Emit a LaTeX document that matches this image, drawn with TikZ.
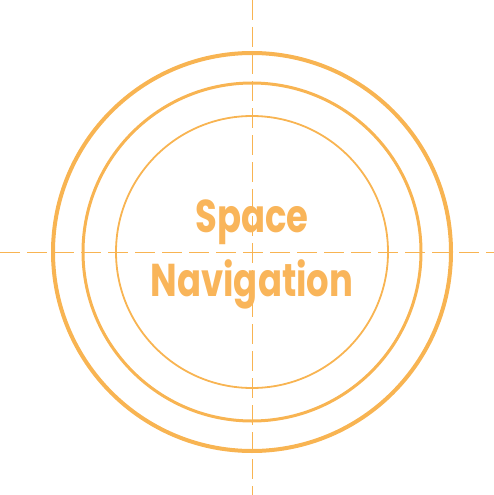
\documentclass[tikz,border=0pt]{standalone}
\usepackage{fontspec}
\setmainfont{Poppins}
\definecolor{ring}{HTML}{F8B452}
\definecolor{txt}{HTML}{F9B55A}
\tikzset{
  ringline/.style={draw=ring, fill=none},
  crossline/.style={draw=ring, line width=1pt, dash pattern=on 20pt off 7pt},
  title/.style={text=txt, font=\bfseries\fontsize{46}{64}\selectfont, align=center, inner sep=0pt}
}
\begin{document}
\begin{tikzpicture}[x=1pt,y=-1pt]
\useasboundingbox (0,0) rectangle (494,495);
\coordinate (c) at (252,252);
\coordinate (l) at (0,252);
\coordinate (r) at (494,252);
\coordinate (t) at (252,0);
\coordinate (b) at (252,495);
\draw[crossline] (l) -- (r);
\draw[crossline] (t) -- (b);
\draw[ringline, line width=4pt] (c) circle[radius=199];
\draw[ringline, line width=3pt] (c) circle[radius=169];
\draw[ringline, line width=1.8pt] (c) circle[radius=136];
\node[title, xscale=0.77] (lbl) at (252,254) {Space\\Navigation};
\end{tikzpicture}
\end{document}
